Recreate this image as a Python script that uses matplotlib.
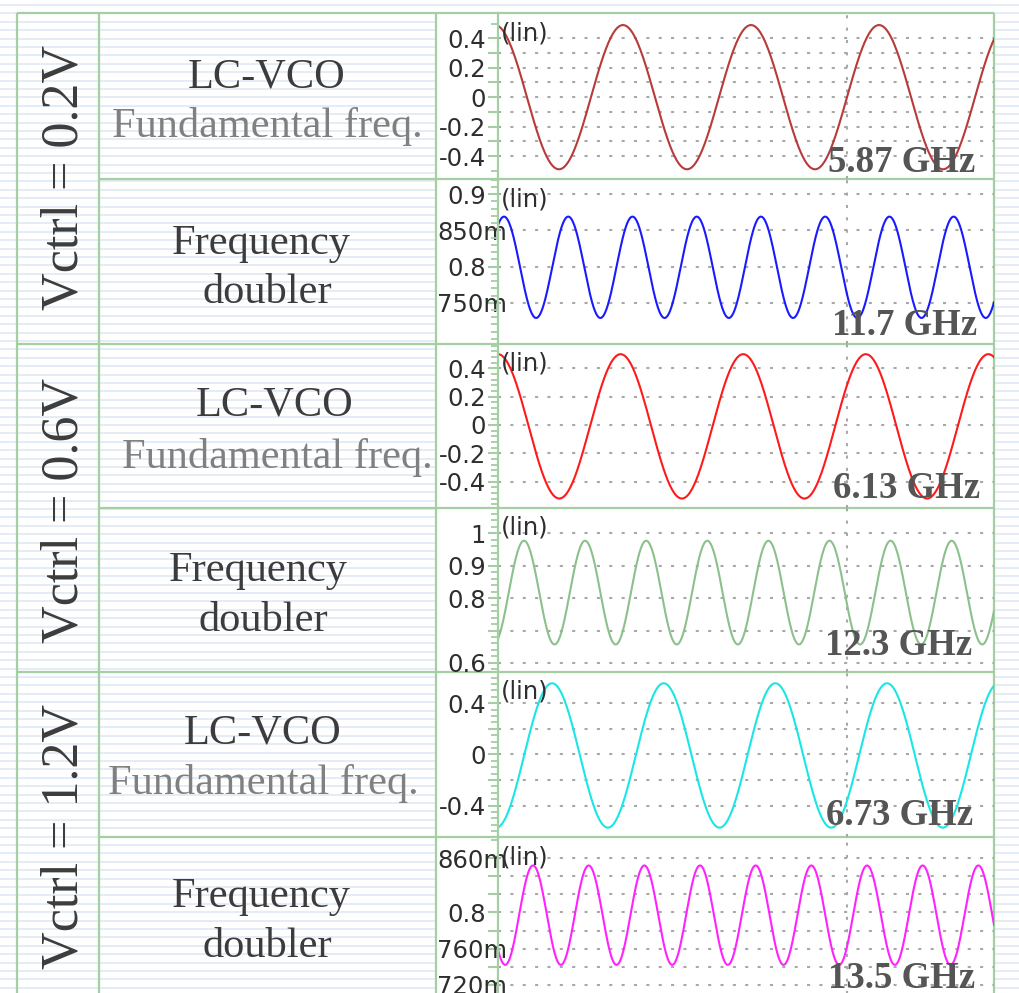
import numpy as np
import matplotlib.pyplot as plt
from matplotlib.patches import Rectangle
from matplotlib.transforms import ScaledTranslation

plt.rcParams['lines.scale_dashes'] = False

W, H = 1019, 993

# values
vctrl = ["Vctrl = 0.2V", "Vctrl = 0.6V", "Vctrl = 1.2V"]
row_text = [["LC-VCO", "Fundamental freq."], ["Frequency", "doubler"],
            ["LC-VCO", "Fundamental freq."], ["Frequency", "doubler"],
            ["LC-VCO", "Fundamental freq."], ["Frequency", "doubler"]]
freq_ghz = [5.87, 11.7, 6.13, 12.3, 6.73, 13.5]
freq_labels = ["5.87 GHz", "11.7 GHz", "6.13 GHz", "12.3 GHz", "6.73 GHz", "13.5 GHz"]
amplitude = [0.49, 0.07, 0.51, 0.16, 0.564, 0.055]
offset = [0.0, 0.799, -0.01, 0.817, -0.009, 0.797]
first_peak_ns = [0.1663, 0.008, 0.0, 0.0346, 0.0719, 0.0466]
ylims = [(-0.556, 0.572), (0.693, 0.921), (-0.587, 0.572),
         (0.572, 1.078), (-0.646, 0.643), (0.702, 0.8835)]
grid_vals = [[-0.4, -0.3, -0.2, -0.1, 0, 0.1, 0.2, 0.3, 0.4],
             [0.75, 0.8, 0.85, 0.9],
             [-0.4, -0.2, 0, 0.2, 0.4],
             [0.6, 0.7, 0.8, 0.9, 1.0],
             [-0.4, -0.2, 0, 0.2, 0.4],
             [0.72, 0.74, 0.76, 0.78, 0.8, 0.82, 0.84, 0.86]]
tick_labels = [{0.4: "0.4", 0.2: "0.2", 0: "0", -0.2: "-0.2", -0.4: "-0.4"},
               {0.9: "0.9", 0.85: "850m", 0.8: "0.8", 0.75: "750m"},
               {0.4: "0.4", 0.2: "0.2", 0: "0", -0.2: "-0.2", -0.4: "-0.4"},
               {1.0: "1", 0.9: "0.9", 0.8: "0.8", 0.6: "0.6"},
               {0.4: "0.4", 0: "0", -0.4: "-0.4"},
               {0.86: "860m", 0.8: "0.8", 0.76: "760m", 0.72: "720m"}]
minor_step = [0.1, 0.01, 0.04, 0.02, 0.05, 0.02]
t_max = 0.66        # ns across the plot
t_vgrid = 0.4644    # the one vertical grid line

colors = ["#b83a3a", "#1a1aff", "#ff1a1a", "#8cc08c", "#1ae6e6", "#ff22ff"]
green = "#a3cfa3"
grid_gray = "#a8a8a8"

# layout in pixels
row_top = [13, 179, 344, 508, 672, 837]
row_bot = [179, 344, 508, 672, 837, 1001]
group_center = [177.5, 510, 836]
text_pos = [[(267, 87), (267, 137)], [(261, 254), (267, 303)],
            [(275, 416), (277, 468)], [(258, 581), (263, 631)],
            [(263, 743), (263, 794)], [(261, 907), (267, 957)]]
text_col = ["#3c3c3c", "#808080"]
freq_pos = [(975, 172), (977, 335), (980, 498), (972, 655), (973, 825), (975, 988)]

fig = plt.figure(figsize=(W / 100, H / 100), dpi=100)

# background: ruled paper + table
bg = fig.add_axes([0, 0, 1, 1], zorder=0)
bg.set_xlim(0, W)
bg.set_ylim(H, 0)
bg.axis("off")
bg.hlines(np.arange(5, H + 10, 8.4), 0, W, color="#e2ebf6", lw=1.3, zorder=1)
bg.add_patch(Rectangle((436, 13), 994 - 436, H, facecolor="white", edgecolor="none", zorder=2))

lw_tab = 1.6
bg.hlines(13, 17, 994, color=green, lw=lw_tab, zorder=3)
for x in [17, 99, 436, 994]:
    bg.vlines(x, 13, H + 5, color=green, lw=lw_tab, zorder=3)
for y in row_bot[:-1]:
    bg.hlines(y, 99, 994, color=green, lw=lw_tab, zorder=3)
for y in [344, 672]:
    bg.hlines(y, 17, 99, color=green, lw=lw_tab, zorder=3)

for i, lab in enumerate(vctrl):
    bg.text(78, group_center[i], lab, rotation=90, rotation_mode="anchor",
            ha="center", va="baseline", fontsize=37.5,
            family="Liberation Serif", color="#3c3c3c", zorder=4)

for i in range(6):
    for j in range(2):
        x, y = text_pos[i][j]
        c = text_col[j] if row_text[i][0] == "LC-VCO" else text_col[0]
        bg.text(x, y, row_text[i][j], ha="center", va="baseline",
                fontsize=30.5, family="Liberation Serif", color=c, zorder=4)

# waveform plots
t = np.linspace(0, t_max, 1500)
for i in range(6):
    left = 498 / W
    bottom = 1 - row_bot[i] / H
    height = (row_bot[i] - row_top[i]) / H
    ax = fig.add_axes([left, bottom, (994 - 498) / W, height], zorder=1)
    ax.set_facecolor("none")
    y = offset[i] + amplitude[i] * np.cos(2 * np.pi * freq_ghz[i] * (t - first_peak_ns[i]))
    ax.plot(t, y, color=colors[i], lw=1.5)
    ax.set_xlim(0, t_max)
    ax.set_ylim(*ylims[i])

    for s in ["top", "right", "bottom"]:
        ax.spines[s].set_visible(False)
    ax.spines["left"].set_color(green)
    ax.spines["left"].set_linewidth(1.6)

    ax.set_xticks([t_vgrid])
    ax.tick_params(axis="x", bottom=False, labelbottom=False)
    ax.xaxis.grid(True, color=grid_gray, lw=1.5, linestyle=(0, (2.2, 6.7)))

    ax.set_yticks(grid_vals[i])
    labs = []
    for v in grid_vals[i]:
        labs.append(next((s for k, s in tick_labels[i].items() if abs(k - v) < 1e-9), ""))
    ax.set_yticklabels(labs, fontsize=17.5, color="#2e2e2e", family="DejaVu Sans")
    lo, hi = ylims[i]
    ax.set_yticks(np.arange(np.ceil(lo / minor_step[i]) * minor_step[i], hi, minor_step[i]), minor=True)
    ax.tick_params(axis="y", which="major", length=7.2, width=1.5, color=green, pad=1.5)
    ax.tick_params(axis="y", which="minor", length=5, width=1.3, color=green)
    ax.yaxis.grid(True, which="major", color=grid_gray, lw=1.5, linestyle=(0, (2.2, 6.7)))
    for lab in ax.get_yticklabels():
        if lab.get_text().endswith("m"):
            lab.set_transform(lab.get_transform() + ScaledTranslation(0.21, 0, fig.dpi_scale_trans))

    ax.text(0.006, 1 - 8 / (row_bot[i] - row_top[i]), "(lin)", transform=ax.transAxes,
            ha="left", va="top", fontsize=17.5, color="#2e2e2e", family="DejaVu Sans")

# frequency labels above the plots
top = fig.add_axes([0, 0, 1, 1], zorder=3)
top.set_xlim(0, W)
top.set_ylim(H, 0)
top.axis("off")
for i in range(6):
    x, y = freq_pos[i]
    top.text(x, y, freq_labels[i], ha="right", va="baseline", fontsize=26.5,
             fontweight="bold", family="Liberation Serif", color="#555555")

fig.savefig("out.png", dpi=100)
